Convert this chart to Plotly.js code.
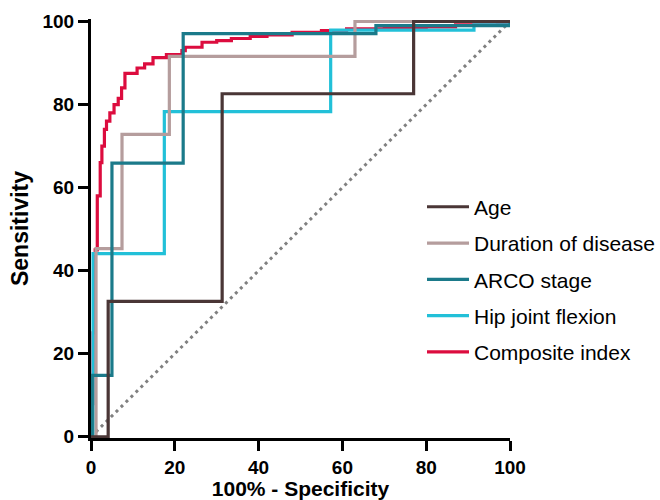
<!DOCTYPE html>
<html>
<head>
<meta charset="utf-8">
<script src="https://cdn.plot.ly/plotly-3.0.1.min.js"></script>
<style>html,body{margin:0;padding:0;background:#fff;}#chart{width:660px;height:500px;}</style>
</head>
<body>
<div id="chart"></div>
<script>
// ROC step points (100% - Specificity, Sensitivity), in %
var seriesNames = ["Age", "Duration of disease", "ARCO stage", "Hip joint flexion", "Composite index"];

var ageX = [0, 4.1, 31.3, 77, 100];
var ageY = [0, 32.6, 82.6, 100, 100];

var durationX = [0, 1.2, 7.4, 18.7, 63, 100];
var durationY = [0, 45.3, 72.8, 91.6, 100, 100];

var arcoX = [0, 0.3, 5.0, 22.0, 68.0, 100];
var arcoY = [0, 14.8, 65.9, 97.1, 99.0, 100];

var hipX = [0, 0.5, 17.5, 57.2, 91.4, 100];
var hipY = [0, 44.1, 78.3, 97.9, 99.2, 100];

var compositeX = [0, 0, 0.5, 1.0, 1.5, 2.2, 2.6, 3.2, 3.7, 4.5, 5.5, 6.5, 7.3, 8.1, 11.0, 12.8, 14.8, 18.0, 21.7, 22.5, 26.5, 30.0, 33.5, 38.0, 42.0, 48.0, 55.0, 61.0, 70.0, 80.0, 87.0, 97.0, 100];
var compositeY = [0, 8, 25, 45, 58, 66, 70, 74, 76, 78, 80, 81.5, 84, 87.5, 88.8, 89.8, 91.3, 92.0, 93.0, 93.8, 95.0, 95.4, 95.9, 96.4, 96.8, 97.4, 97.8, 98.2, 98.5, 98.7, 99.2, 99.6, 100];

var refX = [0, 100];
var refY = [0, 100];

var xTicks = [0, 20, 40, 60, 80, 100];
var yTicks = [0, 20, 40, 60, 80, 100];

var colors = {age: "#4a3636", duration: "#b59d9d", arco: "#1b7a8a", hip: "#22c0d8", composite: "#dc0c3e"};
var FONT = "Arial, 'Liberation Sans', Helvetica, sans-serif";

function stepTrace(x, y, name, color, rank) {
  return {
    type: "scatter", mode: "lines", x: x, y: y, name: name,
    line: {color: color, width: 3.2, shape: "hv"},
    legendrank: rank, legendgroup: name, hoverinfo: "skip"
  };
}

var traces = [
  {type: "scatter", mode: "lines", x: refX, y: refY, showlegend: false,
   line: {color: "#808080", width: 3, dash: "3px,4px"}, hoverinfo: "skip"},
  stepTrace(compositeX, compositeY, seriesNames[4], colors.composite, 5),
  stepTrace(hipX, hipY, seriesNames[3], colors.hip, 4),
  stepTrace(durationX, durationY, seriesNames[1], colors.duration, 2),
  stepTrace(arcoX, arcoY, seriesNames[2], colors.arco, 3),
  stepTrace(ageX, ageY, seriesNames[0], colors.age, 1)
];

var axisCommon = {
  showline: true, linecolor: "#000", linewidth: 3, mirror: false,
  ticks: "outside", ticklen: 10, tickwidth: 3, tickcolor: "#000",
  showgrid: false, zeroline: false,
  tickfont: {family: FONT, size: 19, color: "#000", weight: "bold"}
};

var layout = {
  width: 660, height: 500,
  paper_bgcolor: "#fff", plot_bgcolor: "#fff",
  margin: {l: 91, r: 150, t: 19, b: 62, autoexpand: false},
  showlegend: true,
  xaxis: Object.assign({}, axisCommon, {
    range: [0, 100], tickvals: xTicks, ticktext: xTicks.map(String),
    title: {text: "100% - Specificity", font: {family: FONT, size: 21, color: "#000", weight: "bold"}, standoff: 1}
  }),
  yaxis: Object.assign({}, axisCommon, {
    range: [-0.3, 100.6], tickvals: yTicks, ticktext: yTicks.map(String),
    title: {text: "Sensitivity", font: {family: FONT, size: 23, color: "#000", weight: "bold"}, standoff: 8}
  }),
  legend: {
    x: 0.79, y: 0.6, xanchor: "left", yanchor: "top",
    bgcolor: "rgba(0,0,0,0)", borderwidth: 0,
    font: {family: FONT, size: 21, color: "#000"},
    tracegroupgap: 6, itemwidth: 42
  }
};

Plotly.newPlot("chart", traces, layout, {staticPlot: true, displayModeBar: false});
</script>
</body>
</html>
